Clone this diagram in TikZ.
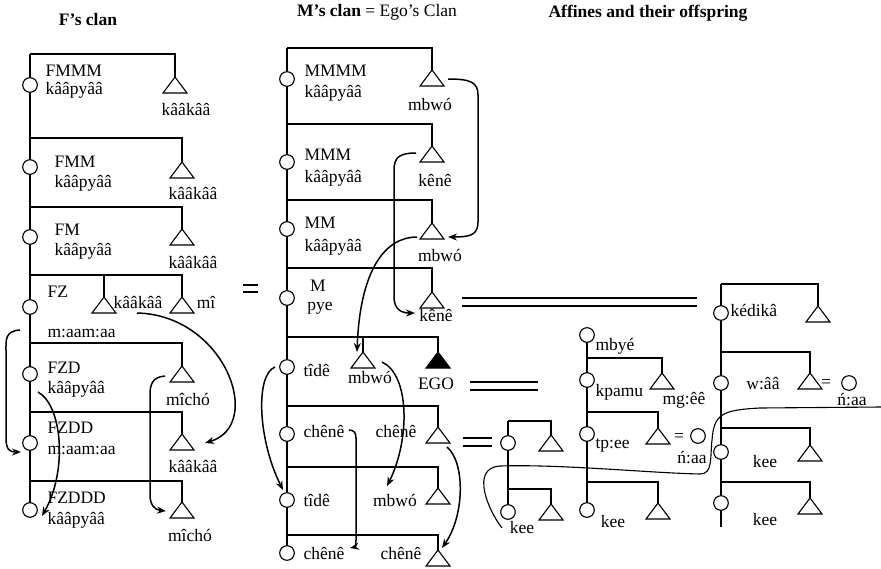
\documentclass[tikz,border=0pt]{standalone}
\usepackage{fontspec}
\setmainfont{Liberation Serif}
\usetikzlibrary{arrows.meta}
\begin{document}
\begin{tikzpicture}[x=1pt,y=-1pt,line width=1.1pt,
  fem/.style={circle,draw,fill=white,minimum size=14.6pt,inner sep=0pt,line width=1.1pt},
  lbl/.style={font=\fontsize{17.5}{20}\selectfont,inner sep=0pt},
  lbll/.style={lbl,anchor=west},
  head/.style={font=\fontsize{17.5}{20}\selectfont,inner sep=0pt},
  link/.style={line width=1.5pt,-{Stealth[length=9pt,width=7pt]}},
  loose/.style={line width=1.1pt},
  marriage/.style={line width=1.1pt},
  male/.pic={\draw[pic actions] (0,0) -- (-12,16) -- (12,16) -- cycle;
    \coordinate (-apex) at (0,0);},
]
\useasboundingbox (0,0) rectangle (881,568);

% ---------- headings ----------
\node[head] (hF) at (88,20) {\textbf{F’s clan}};
\node[head] (hM) at (377,12) {\textbf{M’s clan} = Ego’s Clan};
\node[head] (hA) at (648,13) {\textbf{Affines and their offspring}};

% ---------- F's clan ----------
\draw (30,54) -- (30,510);
\pic (fa1) at (175,77) {male};
\pic (fa2) at (182,162) {male};
\pic (fa3) at (182,229) {male};
\pic (fa4a) at (104,297) {male};
\pic (fa4b) at (182,297) {male};
\pic (fa5) at (182,366) {male};
\pic (fa6) at (182,434) {male};
\pic (fa7) at (182,502) {male};
\coordinate (fb1) at (30,54);
\coordinate (fb2) at (30,138);
\coordinate (fb3) at (30,207);
\coordinate (fb4) at (30,275);
\coordinate (fb5) at (30,343);
\coordinate (fb6) at (30,412);
\coordinate (fb7) at (30,481);
\draw (fb1) -| (fa1-apex);
\draw (fb2) -| (fa2-apex);
\draw (fb3) -| (fa3-apex);
\draw (fb4) -| (fa4b-apex);
\draw (fa4a-apex) -- (fa4a-apex |- fb4);
\draw (fb5) -| (fa5-apex);
\draw (fb6) -| (fa6-apex);
\draw (fb7) -| (fa7-apex);
\node[fem] (ff1) at (30,85) {};
\node[fem] (ff2) at (30,167) {};
\node[fem] (ff3) at (30,237) {};
\node[fem] (ff4) at (30,307) {};
\node[fem] (ff5) at (30,374) {};
\node[fem] (ff6) at (30,443) {};
\node[fem] (ff7) at (30,510) {};

\node[lbll] (l1) at (45,71) {FMMM};
\node[lbll] (l2) at (45,90) {kââpyââ};
\node[lbl]  (l3) at (186,109) {kââkââ};
\node[lbll] (l4) at (54,162) {FMM};
\node[lbll] (l5) at (54,183) {kââpyââ};
\node[lbl]  (l6) at (193,193) {kââkââ};
\node[lbll] (l7) at (54,230) {FM};
\node[lbll] (l8) at (54,251) {kââpyââ};
\node[lbl]  (l9) at (193,262) {kââkââ};
\node[lbll] (l10) at (47,292) {FZ};
\node[lbl]  (l11) at (138,302) {kââkââ};
\node[lbl]  (l12) at (206,302) {mî};
\node[lbll] (l13) at (47,333) {m:aam:aa};
\node[lbll] (l14) at (47,368) {FZD};
\node[lbll] (l15) at (47,389) {kââpyââ};
\node[lbl]  (l16) at (188,399) {mîchó};
\node[lbll] (l17) at (47,428) {FZDD};
\node[lbll] (l18) at (47,450) {m:aam:aa};
\node[lbl]  (l19) at (193,466) {kââkââ};
\node[lbll] (l20) at (47,498) {FZDDD};
\node[lbll] (l21) at (47,520) {kââpyââ};
\node[lbl]  (l22) at (190,535) {mîchó};

% arrows in F's clan
\coordinate (fr1s) at (20,330);
\coordinate (fr1e) at (21,452);
\draw[link] (fr1s) .. controls (5,331) and (6,340) .. (6,350) -- (6,438)
  .. controls (6,450) and (10,452) .. (fr1e);
\coordinate (fr2s) at (38,392);
\coordinate (fr2e) at (42,516);
\draw[link] (fr2s) .. controls (62,405) and (68,470) .. (fr2e);
\coordinate (fr3s) at (137,313);
\coordinate (fr3e) at (205,443);
\draw[link] (fr3s) .. controls (225,315) and (265,425) .. (fr3e);
\coordinate (fr4s) at (165,376);
\coordinate (fr4e) at (166,511);
\draw[link] (fr4s) .. controls (152,377) and (150,385) .. (150,395) -- (150,495)
  .. controls (150,505) and (155,510) .. (fr4e);

% equals sign between the clans
\coordinate (eq1) at (243,285);
\coordinate (eq2) at (243,292);
\draw[marriage] (eq1) -- ++(15,0);
\draw[marriage] (eq2) -- ++(15,0);

% ---------- M's clan ----------
\draw (287,48) -- (287,553);
\pic (ma1) at (432,70) {male};
\pic (ma2) at (432,146) {male};
\pic (ma3) at (432,223) {male};
\pic (ma4) at (432,292) {male};
\pic (ma5a) at (363,352) {male};
\pic[fill=black] (ego) at (438,352) {male};
\pic (ma6) at (438,427) {male};
\pic (ma7) at (438,488) {male};
\pic (ma8) at (438,550) {male};
\coordinate (mb1) at (287,48);
\coordinate (mb2) at (287,124);
\coordinate (mb3) at (287,200);
\coordinate (mb4) at (287,268);
\coordinate (mb5) at (287,337);
\coordinate (mb6) at (287,406);
\coordinate (mb7) at (287,467);
\coordinate (mb8) at (287,535);
\draw (mb1) -| (ma1-apex);
\draw (mb2) -| (ma2-apex);
\draw (mb3) -| (ma3-apex);
\draw (mb4) -| (ma4-apex);
\draw (mb5) -| (ego-apex);
\draw (ma5a-apex) -- (ma5a-apex |- mb5);
\draw (mb6) -| (ma6-apex);
\draw (mb7) -| (ma7-apex);
\draw (mb8) -| (ma8-apex);
\node[fem] (mf1) at (287,79) {};
\node[fem] (mf2) at (287,162) {};
\node[fem] (mf3) at (287,229) {};
\node[fem] (mf4) at (287,298) {};
\node[fem] (mf5) at (287,367) {};
\node[fem] (mf6) at (287,434) {};
\node[fem] (mf7) at (287,500) {};
\node[fem] (mf8) at (287,553) {};

\node[lbll] (k1) at (304,71) {MMMM};
\node[lbll] (k2) at (304,93) {kââpyââ};
\node[lbl]  (k3) at (430,104) {mbwó};
\node[lbll] (k4) at (304,155) {MMM};
\node[lbll] (k5) at (304,178) {kââpyââ};
\node[lbl]  (k6) at (435,180) {kênê};
\node[lbll] (k7) at (304,223) {MM};
\node[lbll] (k8) at (304,247) {kââpyââ};
\node[lbl]  (k9) at (440,255) {mbwó};
\node[lbl]  (k10) at (318,286) {M};
\node[lbl]  (k11) at (320,308) {pye};
\node[lbl]  (k12) at (436,315) {kênê};
\node[lbll] (k13) at (303,370) {tîdê};
\node[lbl]  (k14) at (370,377) {mbwó};
\node[lbl]  (k15) at (436,384) {EGO};
\node[lbll] (k16) at (303,431) {chênê};
\node[lbl]  (k17) at (396,431) {chênê};
\node[lbll] (k18) at (303,500) {tîdê};
\node[lbl]  (k19) at (395,500) {mbwó};
\node[lbll] (k20) at (303,553) {chênê};
\node[lbl]  (k21) at (401,553) {chênê};

% arrows in M's clan
\coordinate (mr1s) at (448,79);
\coordinate (mr1e) at (448,237);
\draw[link] (mr1s) .. controls (470,79) and (478,82) .. (478,95) -- (478,222)
  .. controls (478,235) and (470,237) .. (mr1e);
\coordinate (mr2s) at (416,153);
\coordinate (mr2e) at (415,313);
\draw[link] (mr2s) .. controls (400,153) and (394,157) .. (394,170) -- (394,297)
  .. controls (394,308) and (400,313) .. (mr2e);
\coordinate (mr3s) at (417,237);
\coordinate (mr3e) at (357,352);
\draw[link] (mr3s) .. controls (385,237) and (360,270) .. (mr3e);
\coordinate (mr4s) at (275,367);
\coordinate (mr4e) at (283,490);
\draw[link] (mr4s) .. controls (255,375) and (258,440) .. (mr4e);
\coordinate (mr5s) at (382,362);
\coordinate (mr5e) at (387,486);
\draw[link] (mr5s) .. controls (410,375) and (410,440) .. (mr5e);
\coordinate (mr6s) at (349,430);
\coordinate (mr6e) at (350,548);
\draw[link] (mr6s) .. controls (354,430) and (356,433) .. (356,438) -- (356,540)
  .. controls (356,545) and (355,547) .. (mr6e);
\coordinate (mr7s) at (447,447);
\coordinate (mr7e) at (442,548);
\draw[link] (mr7s) .. controls (465,462) and (465,515) .. (mr7e);

% marriage double lines
\draw[marriage] (462,298) -- (697,298);
\draw[marriage] (462,306) -- (697,306);
\draw[marriage] (470,382) -- (538,382);
\draw[marriage] (470,390) -- (538,390);
\draw[marriage] (463,438) -- (492,438);
\draw[marriage] (463,446) -- (492,446);

% ---------- affines: group A ----------
\draw (508,421) -- (508,512);
\pic (aa1) at (551,435) {male};
\pic (aa2) at (551,504) {male};
\coordinate (ab1) at (508,421);
\coordinate (ab2) at (508,489);
\draw (ab1) -| (aa1-apex);
\draw (ab2) -| (aa2-apex);
\node[fem] (af1) at (508,443) {};
\node[fem] (af2) at (508,512) {};
\node[lbl] (a1) at (522,528) {kee};

% ---------- affines: group B ----------
\draw (587,335) -- (587,510);
\pic (ba1) at (662,373) {male};
\pic (ba2) at (658,428) {male};
\pic (ba3) at (658,503) {male};
\coordinate (bb1) at (587,358);
\coordinate (bb2) at (587,412);
\coordinate (bb3) at (587,482);
\draw (bb1) -| (ba1-apex);
\draw (bb2) -| (ba2-apex);
\draw (bb3) -| (ba3-apex);
\node[fem] (bf0) at (587,335) {};
\node[fem] (bf1) at (587,380) {};
\node[fem] (bf2) at (587,434) {};
\node[fem] (bf3) at (587,510) {};
\node[fem] (bw) at (698,436) {};
\node[lbll] (b1) at (595,346) {mbyé};
\node[lbll] (b2) at (595,392) {kpamu};
\node[lbl]  (b3) at (684,400) {mg:êê};
\node[lbll] (b4) at (595,445) {tp:ee};
\node[lbl]  (b5) at (679,437) {=};
\node[lbl]  (b6) at (692,458) {ń:aa};
\node[lbl]  (b7) at (613,522) {kee};

% ---------- affines: group C ----------
\draw (721,284) -- (721,527);
\pic (ca1) at (818,306) {male};
\pic (ca2) at (810,373) {male};
\pic (ca3) at (810,445) {male};
\pic (ca4) at (810,498) {male};
\coordinate (cb1) at (721,284);
\coordinate (cb2) at (721,352);
\coordinate (cb3) at (721,428);
\coordinate (cb4) at (721,482);
\draw (cb1) -| (ca1-apex);
\draw (cb2) -| (ca2-apex);
\draw (cb3) -| (ca3-apex);
\draw (cb4) -| (ca4-apex);
\node[fem] (cf1) at (721,313) {};
\node[fem] (cf2) at (721,383) {};
\node[fem] (cf3) at (721,452) {};
\node[fem] (cf4) at (721,503) {};
\node[fem] (cw) at (849,383) {};
\node[lbll] (c1) at (730,310) {kédikâ};
\node[lbl]  (c2) at (763,384) {w:ââ};
\node[lbl]  (c3) at (826,383) {=};
\node[lbl]  (c4) at (852,400) {ń:aa};
\node[lbl]  (c5) at (765,462) {kee};
\node[lbl]  (c6) at (765,520) {kee};

% free line linking the kee across the affines
\coordinate (ls) at (502,528);
\coordinate (le) at (881,407);
\draw[loose] (ls) .. controls (488,510) and (470,468) .. (500,466)
  .. controls (560,464) and (650,473) .. (700,474)
  .. controls (713,474) and (710,458) .. (712,440)
  .. controls (714,414) and (722,410) .. (760,408) -- (le);
\end{tikzpicture}
\end{document}
